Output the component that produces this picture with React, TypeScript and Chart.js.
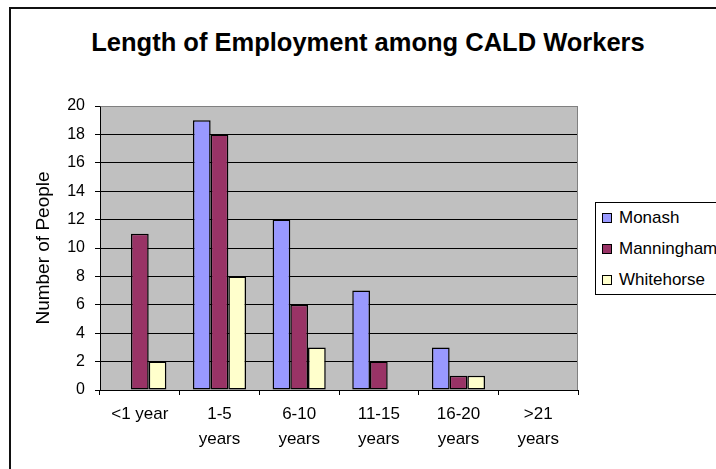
import React, { useEffect, useRef } from "react";
import { Chart, registerables } from "chart.js";

Chart.register(...registerables);

// Tenure bands (multi-line tick labels)
const categories: string[][] = [
  ["<1 year"],
  ["1-5", "years"],
  ["6-10", "years"],
  ["11-15", "years"],
  ["16-20", "years"],
  [">21", "years"],
];

const seriesNames = ["Monash", "Manningham", "Whitehorse"];
const seriesColors = ["#9999FF", "#993366", "#FFFFCC"];

const monash = [0, 19, 12, 7, 3, 0];
const manningham = [11, 18, 6, 2, 1, 0];
const whitehorse = [2, 8, 3, 0, 1, 0];

const yTickStep = 2;
const yMax = 20;

const chartTitle = "Length of Employment among CALD Workers";
const yTitle = "Number of People";

const FONT = "'Liberation Sans', Arial, Helvetica, sans-serif";

// Grey plot background plus top/right frame lines
const plotFrame = {
  id: "plotFrame",
  beforeDraw(chart: any) {
    const { ctx, chartArea } = chart;
    ctx.save();
    ctx.fillStyle = "#C0C0C0";
    ctx.fillRect(chartArea.left, chartArea.top, chartArea.right - chartArea.left, chartArea.bottom - chartArea.top);
    ctx.restore();
  },
  afterDraw(chart: any) {
    const { ctx, chartArea } = chart;
    const l = Math.round(chartArea.left) + 0.5;
    const t = Math.round(chartArea.top) + 0.5;
    const r = Math.round(chartArea.right) - 0.5;
    const b = Math.round(chartArea.bottom);
    ctx.save();
    ctx.strokeStyle = "#808080";
    ctx.lineWidth = 1;
    ctx.beginPath();
    ctx.moveTo(l, t);
    ctx.lineTo(r, t);
    ctx.lineTo(r, b);
    ctx.stroke();
    ctx.restore();
  },
};

export default function App() {
  const canvasRef = useRef<HTMLCanvasElement | null>(null);

  useEffect(() => {
    if (!canvasRef.current) return;
    const values = [monash, manningham, whitehorse];
    const chart = new Chart(canvasRef.current, {
      type: "bar",
      data: {
        labels: categories as any,
        datasets: seriesNames.map((name, i) => ({
          label: name,
          data: values[i],
          backgroundColor: seriesColors[i],
          borderColor: "#000000",
          borderWidth: 1.5,
          borderSkipped: false,
          categoryPercentage: 0.667,
          barPercentage: 1.0,
        })),
      },
      options: {
        animation: false,
        responsive: false,
        devicePixelRatio: 1,
        layout: { padding: { top: 97, left: 0, right: 138, bottom: 19 } },
        plugins: {
          legend: { display: false },
          title: { display: false },
          tooltip: { enabled: false },
        },
        scales: {
          x: {
            offset: true,
            grid: {
              offset: true,
              drawOnChartArea: false,
              drawTicks: true,
              tickLength: 5,
              tickColor: "#000000",
              color: "#000000",
            },
            border: { color: "#000000", width: 1 },
            ticks: {
              color: "#000000",
              padding: 7,
              maxRotation: 0,
              autoSkip: false,
              font: { family: FONT, size: 17, lineHeight: 1.47 },
            },
            afterFit: (scale: any) => {
              scale.height = 60;
            },
          },
          y: {
            min: 0,
            max: yMax,
            grid: {
              color: (c: any) => (c.tick && c.tick.value === yMax ? "#808080" : "#000000"),
              tickColor: "#000000",
              tickLength: 5,
              lineWidth: 1,
            },
            border: { color: "#000000", width: 1 },
            ticks: {
              stepSize: yTickStep,
              color: "#000000",
              padding: 10,
              font: { family: FONT, size: 16 },
            },
            title: {
              display: true,
              text: yTitle,
              color: "#000000",
              padding: { top: 21, bottom: 0 },
              font: { family: FONT, size: 19, lineHeight: 1.2 },
            },
            afterFit: (scale: any) => {
              scale.width = 89;
            },
          },
        },
      },
      plugins: [plotFrame],
    });
    return () => chart.destroy();
  }, []);

  return (
    <div
      style={{
        position: "fixed",
        left: 0,
        top: 0,
        width: 716,
        height: 469,
        overflow: "hidden",
        background: "#ffffff",
        fontFamily: FONT,
      }}
    >
      <div
        style={{
          position: "absolute",
          left: 9,
          top: 7,
          width: 760,
          height: 520,
          border: "2px solid #111111",
          boxSizing: "border-box",
        }}
      />
      <div
        style={{
          position: "absolute",
          left: 0,
          top: 29,
          width: 736,
          textAlign: "center",
          fontSize: 25.5,
          lineHeight: "26px",
          fontWeight: "bold",
          color: "#000000",
          whiteSpace: "nowrap",
        }}
      >
        {chartTitle}
      </div>
      <canvas
        ref={canvasRef}
        width={705}
        height={460}
        style={{ position: "absolute", left: 11, top: 9, width: 705, height: 460, display: "block" }}
      />
      <div
        style={{
          position: "absolute",
          left: 595,
          top: 202,
          width: 140,
          height: 93,
          border: "1px solid #000000",
          boxSizing: "border-box",
          background: "#ffffff",
        }}
      >
        {seriesNames.map((name, i) => (
          <div
            key={name}
            style={{
              display: "flex",
              alignItems: "center",
              height: 31,
              paddingLeft: 6,
              marginTop: i === 0 ? -1 : 0,
            }}
          >
            <span
              style={{
                display: "inline-block",
                width: 10,
                height: 10,
                boxSizing: "border-box",
                border: "1px solid #000000",
                background: seriesColors[i],
                marginRight: 7,
              }}
            />
            <span style={{ fontSize: 17, color: "#000000", whiteSpace: "nowrap" }}>{name}</span>
          </div>
        ))}
      </div>
    </div>
  );
}
